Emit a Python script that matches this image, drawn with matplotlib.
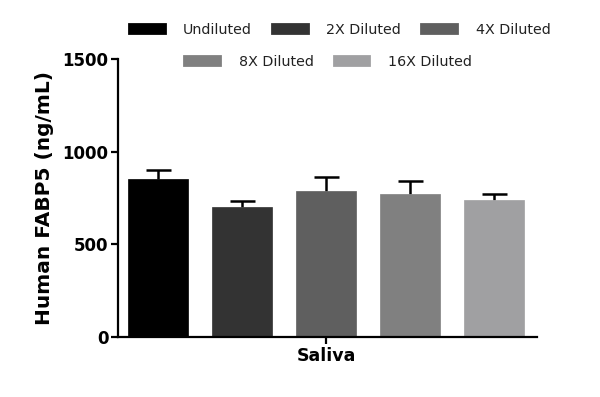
import matplotlib
matplotlib.use("Agg")
import matplotlib.pyplot as plt
from matplotlib.patches import Patch
import numpy as np

plt.rcParams['font.family'] = ['DejaVu Sans']

series = ["Undiluted", "2X Diluted", "4X Diluted", "8X Diluted", "16X Diluted"]
means = [853, 703, 790, 773, 741]
errors = [46, 31, 72, 71, 31]
colors = ["#000000", "#333333", "#5f5f5f", "#808080", "#a0a0a2"]
group = "Saliva"
yticks = [0, 500, 1000, 1500]

fig = plt.figure(figsize=(6, 3.97), dpi=100)
ax = fig.add_axes([0.197, 0.151, 0.698, 0.700])

x = np.arange(len(series))
ax.bar(x, means, width=0.71, color=colors, edgecolor=colors, linewidth=0.5, zorder=2)
eb = ax.errorbar(x, means, yerr=[np.zeros(len(errors)), errors], fmt='none', ecolor='black',
                 elinewidth=1.8, capsize=9, capthick=1.8, zorder=1)
eb[1][0].set_visible(False)

ax.set_ylim(0, 1500)
ax.set_xlim(-0.476, 4.51)
ax.set_yticks(yticks)
ax.set_yticklabels([str(t) for t in yticks], fontsize=12, fontweight='bold')
ax.set_xticks([2])
ax.set_xticklabels([group], fontsize=12.5, fontweight='bold')
ax.set_ylabel("Human FABP5 (ng/mL)", fontsize=14.5, fontweight='bold', labelpad=6)

for s in ['top', 'right']:
    ax.spines[s].set_visible(False)
for s in ['left', 'bottom']:
    ax.spines[s].set_linewidth(1.6)
ax.tick_params(axis='both', width=1.6, length=5, pad=2)

handles = [Patch(facecolor=c, edgecolor=c, joinstyle='round', linewidth=2) for c in colors]
leg1 = fig.legend(handles[:3], series[:3], loc='center', bbox_to_anchor=(0.566, 0.925),
                  ncol=3, frameon=False, fontsize=10.3, handlelength=2.5, handleheight=0.6,
                  handletextpad=1.3, columnspacing=1.4)
leg2 = fig.legend(handles[3:], series[3:], loc='center', bbox_to_anchor=(0.547, 0.845),
                  ncol=2, frameon=False, fontsize=10.3, handlelength=2.5, handleheight=0.6,
                  handletextpad=1.3, columnspacing=1.4)
for t in leg1.get_texts() + leg2.get_texts():
    t.set_color('#222222')

fig.savefig("out.png", dpi=100)
